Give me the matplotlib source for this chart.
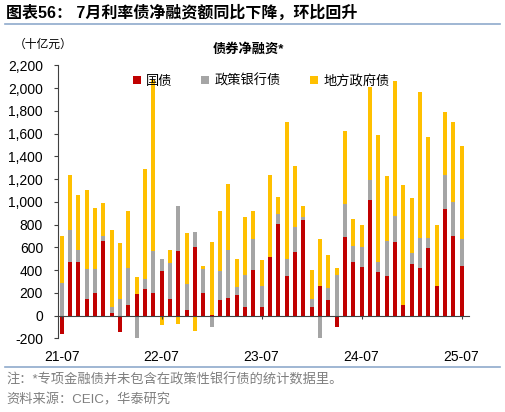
import matplotlib
matplotlib.use("Agg")
import matplotlib.pyplot as plt
from matplotlib.lines import Line2D
import numpy as np

plt.rcParams['font.family'] = ['Liberation Sans', 'Noto Sans CJK SC', 'DejaVu Sans']

# monthly net financing, 十亿元, 21-07 .. 25-07
months = ["21-07", "21-08", "21-09", "21-10", "21-11", "21-12",
          "22-01", "22-02", "22-03", "22-04", "22-05", "22-06",
          "22-07", "22-08", "22-09", "22-10", "22-11", "22-12",
          "23-01", "23-02", "23-03", "23-04", "23-05", "23-06",
          "23-07", "23-08", "23-09", "23-10", "23-11", "23-12",
          "24-01", "24-02", "24-03", "24-04", "24-05", "24-06",
          "24-07", "24-08", "24-09", "24-10", "24-11", "24-12",
          "25-01", "25-02", "25-03", "25-04", "25-05", "25-06",
          "25-07"]

treasury = [-164, 469, 475, 144, 202, 656,
            26, -147, 97, 193, 237, 202,
            396, 144, 568, 53, 604, 202,
            5, 135, 155, 182, 76, 404,
            79, 516, 809, 349, 560, 844,
            76, 264, 141, -97, 689, 475,
            428, 1017, 384, 349, 648, 94,
            451, 416, 598, 264, 938, 703,
            440]

policy_bank = [290, 287, 102, 266, 205, 47,
               53, 144, 319, -208, 85, 369,
               105, 316, 396, 228, 129, 208,
               -105, 261, 419, 67, 284, 273,
               185, -10, 88, 149, 222, 23,
               71, -208, 102, 360, 293, 140,
               176, 176, 91, 304, 231, 0,
               103, 270, 88, 0, 301, 299,
               237]

local_gov = [410, 483, 484, 692, 542, 284,
             671, 498, 504, 147, 970, 1500,
             -85, 117, -70, 446, -132, 27,
             645, 524, 583, 246, 507, 243,
             225, 718, 149, 1204, 537, 100,
             257, 413, 287, 59, 641, 232,
             196, 820, 1110, 575, 1187, 1055,
             483, 1277, 882, 530, 554, 703,
             814]

series = [("国债", treasury, "#C00000"),
          ("政策银行债", policy_bank, "#A5A5A5"),
          ("地方政府债", local_gov, "#FFC000")]

W, H = 505, 412
fig = plt.figure(figsize=(W / 100, H / 100), dpi=100)
ax = fig.add_axes([58.3 / W, 1 - 338.3 / H, (469 - 58.3) / W, (338.3 - 65.3) / H])

x = np.arange(len(months))
pos_bottom = np.zeros(len(months))
neg_bottom = np.zeros(len(months))
for name, vals, color in series:
    vals = np.array(vals, dtype=float)
    bottom = np.where(vals >= 0, pos_bottom, neg_bottom)
    ax.bar(x, vals, 0.48, bottom=bottom, color=color, label=name, linewidth=0)
    pos_bottom += np.where(vals >= 0, vals, 0)
    neg_bottom += np.where(vals < 0, vals, 0)

ax.set_xlim(-0.4, 48.9)
ax.set_ylim(-200, 2200)
ax.set_yticks(range(-200, 2201, 200))
ax.set_yticklabels([f"{v:,}" for v in range(-200, 2201, 200)], fontsize=10)
ax.set_xticks(x[::12])
ax.set_xticklabels(months[::12], fontsize=10)

for s in ["top", "right"]:
    ax.spines[s].set_visible(False)
ax.spines["bottom"].set_position(("data", 0))
ax.spines["bottom"].set_color("#404040")
ax.spines["left"].set_color("#404040")
ax.tick_params(axis="y", direction="out", length=3, color="#404040", pad=8)
ax.tick_params(axis="x", direction="out", length=2.5, color="#404040", pad=22)

ax.legend(loc="center", bbox_to_anchor=(0.4935, 0.9425), ncol=3, frameon=False,
          fontsize=9.5, handlelength=0.6, handleheight=0.6, handletextpad=0.4,
          columnspacing=2.2)

fig.text(248 / W, 1 - 49 / H, "债券净融资*", ha="center", va="center",
         fontsize=9.5, fontweight="bold")
fig.text(14 / W, 1 - 45 / H, "（十亿元）", ha="left", va="center", fontsize=8.5)

fig.text(6 / W, 1 - 13 / H, "图表56： 7月利率债净融资额同比下降，环比回升",
         ha="left", va="center", fontsize=11.5, fontweight="bold")
fig.add_artist(Line2D([5 / W, 500 / W], [1 - 23.5 / H, 1 - 23.5 / H],
                      color="#8FAACC", linewidth=1.2))
fig.add_artist(Line2D([5 / W, 500 / W], [1 - 367 / H, 1 - 367 / H],
                      color="#8FAACC", linewidth=1.2))
fig.text(6 / W, 1 - 380 / H, "注：*专项金融债并未包含在政策性银行债的统计数据里。",
         ha="left", va="center", fontsize=9.5, color="#7F7F7F")
fig.text(6 / W, 1 - 400 / H, "资料来源：CEIC，华泰研究",
         ha="left", va="center", fontsize=9.5, color="#7F7F7F")

fig.savefig("out.png", dpi=100)
